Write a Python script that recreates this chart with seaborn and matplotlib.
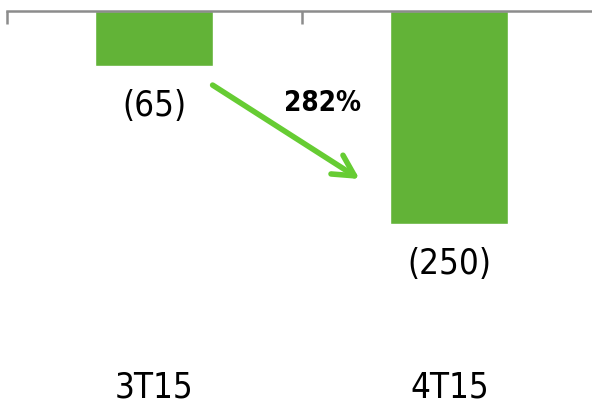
import matplotlib
matplotlib.use('Agg')
import matplotlib.pyplot as plt
import seaborn as sns

# Données
quarters = ['3T15', '4T15']
values = [-65, -250]
value_labels = ['(65)', '(250)']
growth_label = '282%'

bar_color = '#62B337'
arrow_color = '#66CC33'
axis_color = '#8C8C8C'

sns.set_style('white')
plt.rcParams['font.family'] = ['DejaVu Sans']
plt.rcParams['font.stretch'] = 'condensed'
plt.rcParams['text.color'] = 'black'

fig = plt.figure(figsize=(5.92, 4.06), dpi=100)
# axe dont le bord haut (valeur 0) est à ~12 px du haut
ax = fig.add_axes([7 / 592, 1 - 365 / 406, 590 / 592, (365 - 12) / 406])

sns.barplot(x=quarters, y=values, color=bar_color, saturation=1, width=0.4, ax=ax)

ax.set_xlim(-0.5, 1.5)
ax.set_ylim(-415, 0)

# Axe des catégories en haut (ligne zéro), étiquettes en bas
for side in ['left', 'right', 'bottom']:
    ax.spines[side].set_visible(False)
ax.spines['top'].set_color(axis_color)
ax.spines['top'].set_linewidth(1.8)
ax.set_yticks([])
ax.set_xticks([0, 1])
ax.set_xticklabels(quarters, fontsize=25)
ax.tick_params(axis='x', which='major', length=0, pad=4, colors='black')
ax.set_xticks([-0.5, 0.5], minor=True)
ax.tick_params(axis='x', which='minor', bottom=False, top=True, direction='in',
               length=9, width=1.8, color=axis_color)
ax.set_xlabel('')
ax.set_ylabel('')

# Étiquettes de valeurs sous les barres
for i, (v, lab) in enumerate(zip(values, value_labels)):
    ax.annotate(lab, xy=(i, v), xytext=(0, -28), textcoords='offset points',
                ha='center', va='center', fontsize=25, color='black')

# Flèche de variation
ax.annotate('', xy=(0.695, values[1] * 0.79), xytext=(0.197, values[0] * 1.34),
            arrowprops=dict(arrowstyle='->,head_length=1.5,head_width=0.8',
                            color=arrow_color, lw=4, shrinkA=0, shrinkB=0))
ax.text(0.57, -107, growth_label, ha='center', va='center', fontsize=20,
        fontweight='bold', color='black')

fig.savefig('out.png', dpi=100)
